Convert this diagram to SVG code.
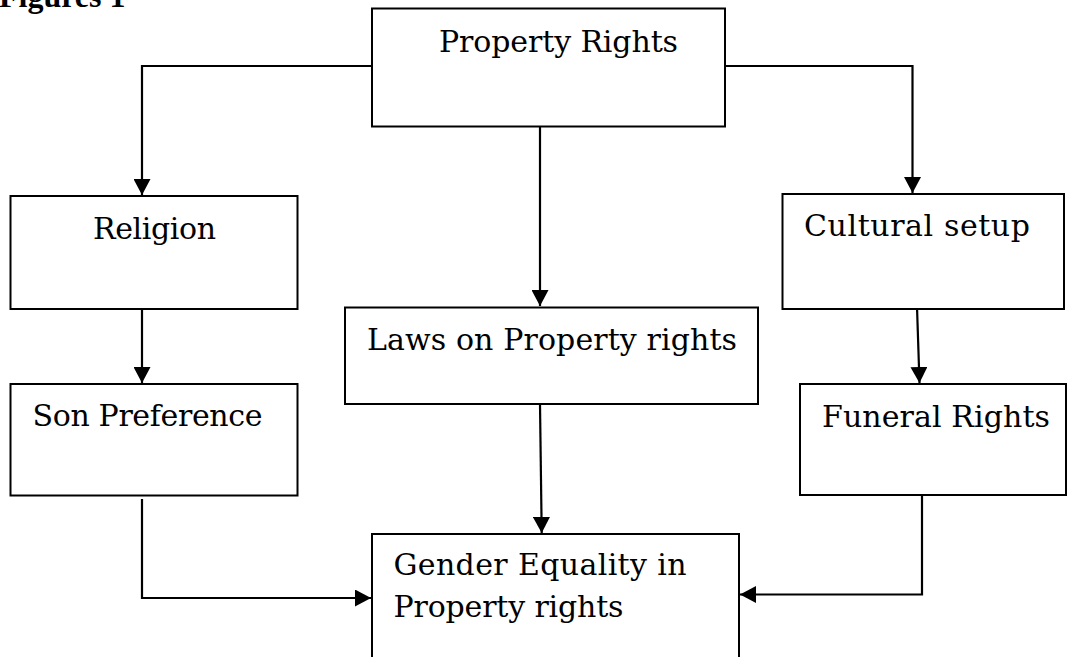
<svg xmlns="http://www.w3.org/2000/svg" width="1067" height="657" viewBox="0 0 1067 657">
<style>
.box{fill:#fff;stroke:#000;stroke-width:2}
.lbl{font-family:"DejaVu Serif","Liberation Serif",serif;font-size:30px;fill:#000}
.title{font-family:"Liberation Serif",serif;font-size:32px;font-weight:bold;fill:#000}
.con{fill:none;stroke:#000;stroke-width:2.2}
</style>
<defs>
<marker id="arr" viewBox="0 0 16 17" refX="16" refY="8.5" markerWidth="16" markerHeight="17" markerUnits="userSpaceOnUse" orient="auto">
<path d="M0,0 L16,8.5 L0,17 z" fill="#000"/>
</marker>
</defs>
<rect width="1067" height="657" fill="#fff"/>
<text class="title" x="-1" y="7">Figures 1</text>
<g id="connectors">
<path class="con" d="M372,66 H142 V195" marker-end="url(#arr)"/>
<path class="con" d="M725,66 H912.5 V193" marker-end="url(#arr)"/>
<path class="con" d="M540,126 V306" marker-end="url(#arr)"/>
<path class="con" d="M142,307 V383" marker-end="url(#arr)"/>
<path class="con" d="M917,307 L919.5,383" marker-end="url(#arr)"/>
<path class="con" d="M540,404 L541.7,533" marker-end="url(#arr)"/>
<path class="con" d="M142,499 V598 H371" marker-end="url(#arr)"/>
<path class="con" d="M922,495 V594.5 H740" marker-end="url(#arr)"/>
</g>
<g id="property-rights">
<rect class="box" x="372" y="8.5" width="353" height="118"/>
<text class="lbl" x="439" y="52" textLength="239">Property Rights</text>
</g>
<g id="religion">
<rect class="box" x="10.5" y="196" width="287" height="113"/>
<text class="lbl" x="93" y="239" textLength="123">Religion</text>
</g>
<g id="cultural-setup">
<rect class="box" x="782.5" y="194" width="281.5" height="115"/>
<text class="lbl" x="804" y="236" textLength="226">Cultural setup</text>
</g>
<g id="laws">
<rect class="box" x="345" y="307.5" width="413" height="96.5"/>
<text class="lbl" x="367" y="350" textLength="370">Laws on Property rights</text>
</g>
<g id="son-preference">
<rect class="box" x="10.5" y="384" width="287" height="111.5"/>
<text class="lbl" x="32.5" y="426" textLength="230">Son Preference</text>
</g>
<g id="funeral-rights">
<rect class="box" x="800" y="384" width="266" height="111"/>
<text class="lbl" x="822" y="427" textLength="228">Funeral Rights</text>
</g>
<g id="gender-equality">
<rect class="box" x="372" y="534" width="367" height="140"/>
<text class="lbl" x="393.5" y="575" textLength="293">Gender Equality in</text>
<text class="lbl" x="393.5" y="617" textLength="230">Property rights</text>
</g>
</svg>
